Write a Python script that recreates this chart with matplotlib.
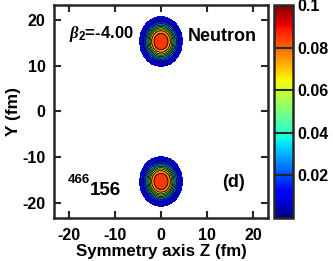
import numpy as np
import matplotlib
matplotlib.use("Agg")
import matplotlib.pyplot as plt
from matplotlib import cm, colors

plt.rcParams['font.family'] = ['Liberation Sans', 'DejaVu Sans']
plt.rcParams['font.weight'] = 'bold'
plt.rcParams['axes.unicode_minus'] = False
plt.rcParams['mathtext.fontset'] = 'custom'
plt.rcParams['mathtext.it'] = 'Liberation Serif:italic'
plt.rcParams['mathtext.rm'] = 'Liberation Sans:bold'

# fragment parameters
frag_y = [15.3, -15.3]          # centres of the two fragments (fm)
frag_z = [0.0, 0.0]
rho0 = 0.0875                   # central density
radius = 2.75                   # half-density radius (fm)
diffuse = 0.52                  # surface diffuseness (fm)
stretch_y = 1.16                # elongation along Y
levels = [0.002, 0.01, 0.02, 0.03, 0.04, 0.05, 0.06, 0.07, 0.08, 0.09]
cbar_ticks = [0.02, 0.04, 0.06, 0.08, 0.1]
cbar_labels = ['0.02', '0.04', '0.06', '0.08', '0.1']
axis_ticks = [-20, -10, 0, 10, 20]

z = np.linspace(-23.3, 23.3, 501)
y = np.linspace(-23.3, 23.3, 501)
Z, Y = np.meshgrid(z, y)
rho = np.zeros_like(Z)
for zc, yc in zip(frag_z, frag_y):
    r = np.sqrt((Z - zc) ** 2 + ((Y - yc) / stretch_y) ** 2)
    rho += rho0 / (1 + np.exp((r - radius) / diffuse))
rho = np.where(rho < levels[0], np.nan, rho)

fig = plt.figure(figsize=(3.33, 2.61), dpi=100)
ax = fig.add_axes([0.162, 0.165, 0.643, 0.816])
norm = colors.Normalize(vmin=0, vmax=0.1)
ax.contourf(Z, Y, rho, levels=levels, cmap='jet', norm=norm)
ax.contour(Z, Y, rho, levels=levels[:-1], colors='k', linewidths=0.6)

ax.set_xlim(-23.3, 23.3)
ax.set_ylim(-23.3, 23.3)
ax.set_xticks(axis_ticks)
ax.set_yticks(axis_ticks)
ax.tick_params(direction='in', length=5, width=1.5, labelsize=11.5,
               top=True, right=True, color='#262626')
ax.tick_params(axis='x', pad=7)
ax.tick_params(axis='y', pad=6)
for s in ax.spines.values():
    s.set_linewidth(1.8)
    s.set_color('#262626')
ax.set_xlabel('Symmetry axis Z (fm)', fontsize=12.2, fontweight='bold', labelpad=1)
ax.set_ylabel('Y (fm)', fontsize=12.5, fontweight='bold', labelpad=1)

ax.text(-20, 17.0, r'$\beta_2$=-4.00', fontsize=12, fontweight='bold', va='center')
ax.text(13.35, 16.4, 'Neutron', fontsize=13, fontweight='bold', ha='center', va='center')
ax.text(-20.2, -15.0, '466', fontsize=9.5, fontweight='bold', va='center')
ax.text(-15.4, -17.4, '156', fontsize=13.5, fontweight='bold', va='center')
ax.text(15.75, -15.5, '(d)', fontsize=13, fontweight='bold', ha='center', va='center')

cax = fig.add_axes([0.823, 0.165, 0.057, 0.816])
cb = fig.colorbar(cm.ScalarMappable(norm=norm, cmap='jet'), cax=cax, ticks=cbar_ticks)
cb.ax.tick_params(length=0, labelsize=11.5, pad=3)
cb.ax.set_yticklabels(cbar_labels)
for t in cbar_ticks[:-1]:
    cb.ax.axhline(t, color='#262626', lw=1.5)
cb.outline.set_linewidth(1.8)
cb.outline.set_edgecolor('#262626')

fig.savefig('out.png', dpi=100)
